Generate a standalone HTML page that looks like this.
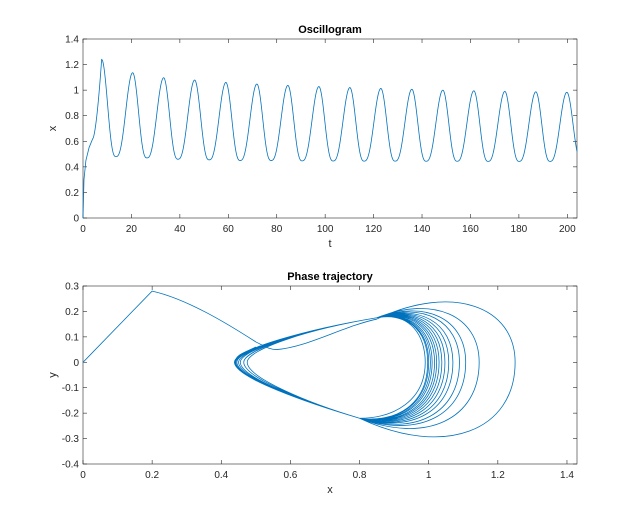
<!DOCTYPE html>
<html><head><meta charset="utf-8"><style>
html,body{margin:0;padding:0;background:#fff;}
svg{display:block;font-family:"Liberation Sans",sans-serif;}
</style></head><body>
<svg id="fig" width="638" height="524" viewBox="0 0 638 524">
<rect width="638" height="524" fill="#fff"/>
</svg>
<script>
// ---- Data ----
const peakTimes = [7.7,20.5,33.3,46.1,59.0,71.8,84.6,97.4,110.2,123,135.8,148.6,161.4,174.2,187,199.8];
const peakValues = [1.24,1.136,1.097,1.079,1.06,1.048,1.037,1.028,1.02,1.013,1.007,1.0,0.995,0.99,0.987,0.983];
const troughTimes = [13.6,26.4,39.2,52.1,64.9,77.7,90.5,103.3,116.1,128.9,141.7,154.5,167.3,180.1,192.9,206];
const troughValues = [0.48,0.47,0.46,0.455,0.45,0.45,0.447,0.446,0.445,0.445,0.444,0.444,0.443,0.443,0.443,0.443];
const startT = [0,0.4,1.2,2.5,4];
const startX = [0,0.3,0.45,0.55,0.62];
const xTicksTop = [0,20,40,60,80,100,120,140,160,180,200];
const yTicksTop = [0,0.2,0.4,0.6,0.8,1,1.2,1.4];
const xTicksBot = [0,0.2,0.4,0.6,0.8,1,1.2,1.4];
const yTicksBot = [-0.4,-0.3,-0.2,-0.1,0,0.1,0.2,0.3];
const transientX = [0,0.2,0.35,0.5,0.56];
const transientY = [0,0.28,0.22,0.08,0.05];

const NS="http://www.w3.org/2000/svg";
const svg=document.getElementById('fig');
function mk(tag,attrs,parent){const e=document.createElementNS(NS,tag);for(const k in attrs)e.setAttribute(k,attrs[k]);(parent||svg).appendChild(e);return e;}

const L=83,R=577;
const axTop={y0:218,y1:39,xmin:0,xmax:204,ymin:0,ymax:1.4};
const axBot={y0:464,y1:286,xmin:0,xmax:1.429,ymin:-0.4,ymax:0.3};
function sx(a,v){return L+(v-a.xmin)/(a.xmax-a.xmin)*(R-L);}
function sy(a,v){return a.y0-(v-a.ymin)/(a.ymax-a.ymin)*(a.y0-a.y1);}
const fmt=v=>(Math.round(v*10)/10).toString();

function axes(a,xt,yt,name,title,xl,yl){
  const g=mk('g',{});
  
  
  mk('rect',{x:L,y:a.y1,width:R-L,height:a.y0-a.y1,fill:'#fff',stroke:'#262626','stroke-width':0.6},g);
  xt.forEach(v=>{const x=sx(a,v);
    mk('line',{x1:x,x2:x,y1:a.y0,y2:a.y0-4,stroke:'#262626','stroke-width':0.6},g);
    mk('line',{x1:x,x2:x,y1:a.y1,y2:a.y1+4,stroke:'#262626','stroke-width':0.6},g);
    const t=mk('text',{x:x,y:a.y0+14,'font-size':10,'text-anchor':'middle',fill:'#262626'},g);t.textContent=fmt(v);
    
    
  });
  yt.forEach(v=>{const y=sy(a,v);
    mk('line',{x1:L,x2:L+4,y1:y,y2:y,stroke:'#262626','stroke-width':0.6},g);
    mk('line',{x1:R,x2:R-4,y1:y,y2:y,stroke:'#262626','stroke-width':0.6},g);
    const t=mk('text',{x:L-4,y:y+3.5,'font-size':10,'text-anchor':'end',fill:'#262626'},g);t.textContent=fmt(v);
    
    
  });
  const tt=mk('text',{x:(L+R)/2,y:a.y1-6,'font-size':11,'font-weight':'bold','text-anchor':'middle',fill:'#000'},g);tt.textContent=title;
  
  
  const xlab=mk('text',{x:(L+R)/2,y:a.y0+29,'font-size':11,'text-anchor':'middle',fill:'#262626'},g);xlab.textContent=xl;
  
  
  const yc=(a.y0+a.y1)/2;
  const ylab=mk('text',{x:56,y:yc,'font-size':11,'text-anchor':'middle',fill:'#262626',transform:`rotate(-90 56 ${yc})`},g);ylab.textContent=yl;
  
  
  return g;
}
axes(axTop,xTicksTop,yTicksTop,'oscillogram-axes','Oscillogram','t','x');
axes(axBot,xTicksBot,yTicksBot,'phase-axes','Phase trajectory','x','y');

// ---- Oscillogram line ----
let pts=[];
for(let i=0;i<startT.length;i++)pts.push([startT[i],startX[i]]);
let prevT=startT[startT.length-1],prevV=startX[startX.length-1];
for(let i=0;i<peakTimes.length;i++){
  const t0=prevT,a=prevV,t1=peakTimes[i],b=peakValues[i];
  for(let k=1;k<=40;k++){const u=k/40;const s=i===0?Math.pow(u,1.6):Math.pow((1-Math.cos(Math.PI*u))/2,1.35);pts.push([t0+(t1-t0)*u,a+(b-a)*s]);}
  const t2=troughTimes[i],c=troughValues[i];
  for(let k=1;k<=40;k++){const u=k/40;const s=Math.pow((1+Math.cos(Math.PI*u))/2,1.35);const t=t1+(t2-t1)*u;if(t>axTop.xmax)break;pts.push([t,c+(b-c)*s]);}
  prevT=t2;prevV=troughValues[i];
}
const osc=mk('path',{d:'M'+pts.filter(p=>p[0]<=axTop.xmax).map(p=>sx(axTop,p[0]).toFixed(2)+','+sy(axTop,p[1]).toFixed(2)).join('L'),fill:'none',stroke:'#0072BD','stroke-width':0.8});



// ---- Phase trajectory ----
const P=(x,y)=>sx(axBot,x).toFixed(2)+','+sy(axBot,y).toFixed(2);
let d='M'+P(transientX[0],transientY[0])+'L'+P(transientX[1],transientY[1]);
d+='C'+P(0.3,0.25)+' '+P(0.42,0.15)+' '+P(transientX[3],transientY[3]);
d+='C'+P(0.53,0.06)+' '+P(0.54,0.05)+' '+P(transientX[4],transientY[4]);
d+='C'+P(0.65,0.06)+' '+P(0.75,0.14)+' '+P(0.85,0.17);
for(let i=0;i<peakValues.length-1;i++){
  const xr=peakValues[i]+0.01, xl=troughValues[i]-0.005;
  const e=Math.max(0,xr-0.98);
  const yt=0.17+e*0.45, yb=-0.21-e*0.55;
  d+='C'+P(0.85+(xr-0.85)*0.55,yt+0.02)+' '+P(xr,yt*0.75)+' '+P(xr,0);
  d+='C'+P(xr,yb*0.75)+' '+P(0.8+(xr-0.8)*0.55,yb-0.02)+' '+P(0.8,-0.22);
  d+='C'+P(0.65,-0.16)+' '+P(xl,-0.06)+' '+P(xl,0);
  d+='C'+P(xl,0.05)+' '+P(0.65,0.13)+' '+P(0.85,0.175);
}
d+='C'+P(0.95,0.2)+' '+P(0.99,0.1)+' '+P(0.99,0)+'C'+P(0.99,-0.15)+' '+P(0.9,-0.22)+' '+P(0.8,-0.22)+'C'+P(0.65,-0.16)+' '+P(0.44,-0.06)+' '+P(0.44,0)+'C'+P(0.44,0.03)+' '+P(0.47,0.04)+' '+P(0.5,0.06);
const ph=mk('path',{d:d,fill:'none',stroke:'#0072BD','stroke-width':0.8});


</script>
</body></html>
